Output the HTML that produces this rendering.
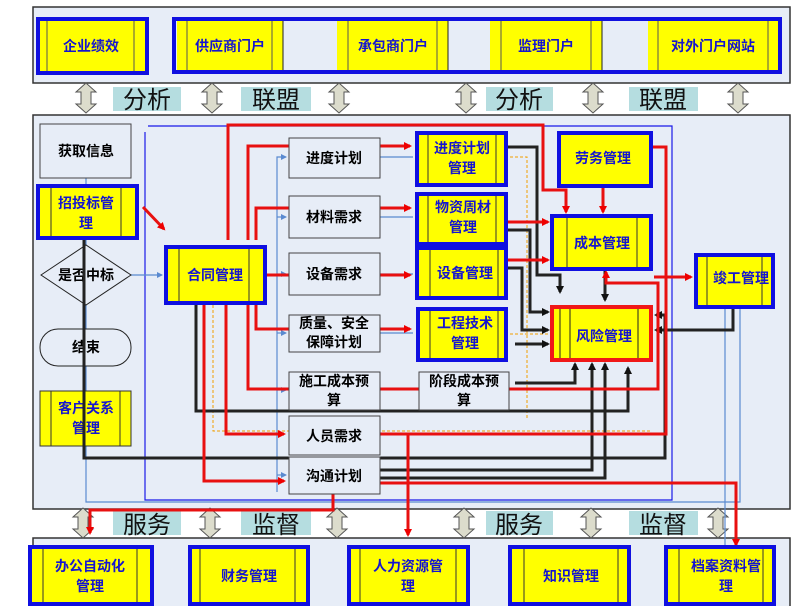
<!DOCTYPE html>
<html><head><meta charset="utf-8"><style>
html,body{margin:0;padding:0;background:#fff;}
svg{display:block;font-family:"Liberation Sans","Noto Sans CJK SC",sans-serif;}
.yt{font-size:14px;font-weight:bold;fill:#1515d0;text-anchor:middle;}
.gt{font-size:14px;font-weight:bold;fill:#000;text-anchor:middle;}
.lt{font-size:24px;fill:#111;text-anchor:middle;}
</style></head><body>
<svg width="793" height="606" viewBox="0 0 793 606" xmlns="http://www.w3.org/2000/svg">
<defs>
<marker id="ar" markerWidth="8" markerHeight="8" refX="6" refY="4" orient="auto" markerUnits="userSpaceOnUse"><path d="M0,0 L8,4 L0,8 z" fill="#e00"/></marker>
<marker id="ab" markerWidth="8" markerHeight="8" refX="6" refY="4" orient="auto" markerUnits="userSpaceOnUse"><path d="M0,0 L8,4 L0,8 z" fill="#111"/></marker>
<marker id="al" markerWidth="6" markerHeight="6" refX="5" refY="3" orient="auto" markerUnits="userSpaceOnUse"><path d="M0,0 L6,3 L0,6 z" fill="#5a8ad0"/></marker>
<g id="darr"><path d="M0,-15 L-10,-6 L-5,-6 L-5,6 L-10,6 L0,15 L10,6 L5,6 L5,-6 L10,-6 z" fill="#dcdccc" stroke="#555" stroke-width="1"/></g>
</defs>
<!-- panels -->
<rect x="33" y="7" width="757" height="76" fill="#e7edf7" stroke="#333" stroke-width="1.5"/>
<rect x="33" y="115" width="757" height="394" fill="#e7edf7" stroke="#333" stroke-width="1.5"/>
<rect x="33" y="538" width="757" height="70" fill="#e7edf7" stroke="#333" stroke-width="1.5"/>

<!-- top boxes -->
<rect x="38" y="19" width="109" height="54" fill="#ffff00" stroke="#1010e0" stroke-width="4"/>
<line x1="47" y1="21" x2="47" y2="71" stroke="#555"/><line x1="134" y1="21" x2="134" y2="71" stroke="#555"/>
<text class="yt" x="91" y="51">企业绩效</text>
<rect x="174" y="19" width="606" height="53" fill="#e7edf7" stroke="#1010e0" stroke-width="4"/>
<rect x="177" y="21" width="106" height="49" fill="#ff0"/><line x1="187" y1="21" x2="187" y2="70" stroke="#555"/><line x1="272" y1="21" x2="272" y2="70" stroke="#555"/><text class="yt" x="230" y="51">供应商门户</text>
<line x1="283" y1="21" x2="283" y2="70" stroke="#222"/>
<rect x="337" y="21" width="111" height="49" fill="#ff0"/><line x1="348" y1="21" x2="348" y2="70" stroke="#555"/><line x1="437" y1="21" x2="437" y2="70" stroke="#555"/><text class="yt" x="393" y="51">承包商门户</text>
<line x1="448" y1="21" x2="448" y2="70" stroke="#222"/>
<rect x="490" y="21" width="112" height="49" fill="#ff0"/><line x1="501" y1="21" x2="501" y2="70" stroke="#555"/><line x1="591" y1="21" x2="591" y2="70" stroke="#555"/><text class="yt" x="546" y="51">监理门户</text>
<line x1="602" y1="21" x2="602" y2="70" stroke="#222"/>
<rect x="648" y="21" width="130" height="49" fill="#ff0"/><line x1="658" y1="21" x2="658" y2="70" stroke="#555"/><line x1="768" y1="21" x2="768" y2="70" stroke="#555"/><text class="yt" x="713" y="51">对外门户网站</text>

<!-- top arrows -->
<use href="#darr" x="86" y="98"/><use href="#darr" x="212" y="98"/><use href="#darr" x="339" y="98"/>
<use href="#darr" x="466" y="98"/><use href="#darr" x="593" y="98"/><use href="#darr" x="738" y="98"/>
<rect x="113" y="87" width="68" height="24" fill="#b5dde0"/><text class="lt" x="147" y="108">分析</text>
<rect x="241" y="87" width="70" height="24" fill="#b5dde0"/><text class="lt" x="276" y="108">联盟</text>
<rect x="486" y="87" width="67" height="24" fill="#b5dde0"/><text class="lt" x="519" y="108">分析</text>
<rect x="629" y="87" width="69" height="24" fill="#b5dde0"/><text class="lt" x="663" y="108">联盟</text>

<!-- bottom arrows -->
<use href="#darr" x="83" y="523"/><use href="#darr" x="210" y="523"/><use href="#darr" x="337" y="523"/>
<use href="#darr" x="464" y="523"/><use href="#darr" x="591" y="523"/><use href="#darr" x="718" y="523"/>
<rect x="113" y="511" width="68" height="24" fill="#b5dde0"/><text class="lt" x="147" y="533">服务</text>
<rect x="241" y="511" width="70" height="24" fill="#b5dde0"/><text class="lt" x="276" y="533">监督</text>
<rect x="486" y="511" width="67" height="24" fill="#b5dde0"/><text class="lt" x="519" y="533">服务</text>
<rect x="629" y="511" width="69" height="24" fill="#b5dde0"/><text class="lt" x="663" y="533">监督</text>

<!-- blue frame -->
<polyline points="148,126 672,126 672,500 145,500 145,132" fill="none" stroke="#1a1ae8" stroke-width="1.2"/>
<!-- light blue connectors -->
<g stroke="#5a8ad0" stroke-width="1.2" fill="none">
<line x1="86" y1="178" x2="86" y2="184"/>
<line x1="86" y1="240" x2="86" y2="391"/>
<line x1="131" y1="275" x2="162" y2="275" marker-end="url(#al)"/>
<polyline points="277,492 277,157 286,157" marker-end="url(#al)"/>
<line x1="277" y1="217" x2="286" y2="217" marker-end="url(#al)"/>
<line x1="277" y1="274" x2="286" y2="274" marker-end="url(#al)"/>
<line x1="277" y1="333" x2="286" y2="333" marker-end="url(#al)"/>
<line x1="277" y1="390" x2="286" y2="390" marker-end="url(#al)"/>
<line x1="277" y1="475" x2="286" y2="475" marker-end="url(#al)"/>
<line x1="380" y1="157" x2="413" y2="157"/>
<line x1="380" y1="217" x2="413" y2="217"/>
<line x1="380" y1="274" x2="413" y2="274"/>
<line x1="380" y1="333" x2="413" y2="333"/>
<polyline points="86,446 86,502 740,502 740,300"/>
<polyline points="725,308 725,495 725,545"/>
</g>
<!-- orange dotted -->
<polyline points="213,300 213,431 650,431" fill="none" stroke="#f0a000" stroke-width="1" stroke-dasharray="3,2"/>
<polyline points="510,157 527,157 527,420" fill="none" stroke="#f0a000" stroke-width="1" stroke-dasharray="3,2"/>
<line x1="510" y1="334" x2="550" y2="334" stroke="#f0a000" stroke-width="1" stroke-dasharray="3,2"/>

<!-- black thick lines -->
<g stroke="#222" stroke-width="3" fill="none" marker-end="url(#ab)">
<polyline points="84,240 84,458 665,458 665,315 656,315"/>
<polyline points="196,300 196,411 628,411 628,368"/>
<polyline points="507,147 537,147 537,275 560,275 560,292"/>
<polyline points="507,230 530,230 530,312 548,312"/>
<polyline points="507,268 522,268 522,330 548,330"/>
<line x1="515" y1="344" x2="548" y2="344"/>
<polyline points="515,383 575,383 575,364"/>
<polyline points="380,470 592,470 592,364"/>
<polyline points="380,478 605,478 605,364"/>
<line x1="605" y1="270" x2="605" y2="300"/>
<polyline points="733,308 733,330 656,330"/>
</g>

<!-- red thick lines -->
<g stroke="#e81010" stroke-width="3" fill="none" marker-end="url(#ar)">
<polyline points="228,240 228,125 543,125 543,190 566,190 566,212"/>
<polyline points="248,240 248,146 410,146"/>
<polyline points="256,240 256,208 410,208"/>
<polyline points="266,275 410,275"/>
<polyline points="256,300 256,329 410,329"/>
<polyline points="248,300 248,389 658,389 658,283 606,283 606,272"/>
<polyline points="226,300 226,434 284,434"/>
<polyline points="204,300 204,481 284,481"/>
<polyline points="333,494 333,510 90,510 90,533"/>
<polyline points="380,434 666,434 666,147 642,147"/>
<polyline points="408,434 408,535"/>
<polyline points="380,483 736,483 736,545"/>
<line x1="603" y1="188" x2="603" y2="212"/>
<line x1="507" y1="222" x2="548" y2="222"/>
<line x1="507" y1="260" x2="548" y2="260"/>
<line x1="654" y1="277" x2="691" y2="277"/>
<line x1="143" y1="207" x2="164" y2="229"/>
</g>

<!-- left column -->
<rect x="40" y="124" width="91" height="54" fill="#e7edf7" stroke="#444"/>
<text class="gt" x="86" y="156">获取信息</text>
<rect x="38" y="186" width="99" height="52" fill="#ff0" stroke="#1010e0" stroke-width="4"/>
<line x1="51" y1="188" x2="51" y2="236" stroke="#333"/><line x1="121" y1="188" x2="121" y2="236" stroke="#333"/>
<text class="yt" x="86" y="208">招投标管</text><text class="yt" x="86" y="228">理</text>
<polygon points="41,275 86,245 131,275 86,305" fill="#e7edf7" stroke="#222"/>
<text class="gt" x="86" y="280">是否中标</text>
<rect x="40" y="329" width="91" height="37" rx="18" fill="#e7edf7" stroke="#222"/>
<text class="gt" x="86" y="352">结束</text>
<rect x="40" y="391" width="91" height="55" fill="#ff0" stroke="#333"/>
<line x1="51" y1="391" x2="51" y2="446" stroke="#333"/><line x1="120" y1="391" x2="120" y2="446" stroke="#333"/>
<text class="yt" x="86" y="413">客户关系</text><text class="yt" x="86" y="433">管理</text>
<line x1="84" y1="240" x2="84" y2="458" stroke="#222" stroke-width="3"/>

<!-- contract -->
<rect x="166" y="247" width="99" height="56" fill="#ff0" stroke="#1010e0" stroke-width="4"/>
<line x1="179" y1="249" x2="179" y2="301" stroke="#333"/><line x1="249" y1="249" x2="249" y2="301" stroke="#333"/>
<text class="yt" x="215" y="280">合同管理</text>

<!-- gray boxes -->
<g fill="#e7edf7" stroke="#444">
<rect x="289" y="138" width="91" height="40"/><rect x="289" y="196" width="91" height="42"/>
<rect x="289" y="253" width="91" height="42"/><rect x="289" y="315" width="91" height="37"/>
<rect x="289" y="372" width="91" height="38"/><rect x="289" y="416" width="91" height="39"/>
<rect x="289" y="457" width="91" height="37"/><rect x="419" y="372" width="90" height="38"/>
</g>
<text class="gt" x="334" y="163">进度计划</text>
<text class="gt" x="334" y="222">材料需求</text>
<text class="gt" x="334" y="279">设备需求</text>
<text class="gt" x="334" y="328">质量、安全</text><text class="gt" x="334" y="347">保障计划</text>
<text class="gt" x="334" y="386">施工成本预</text><text class="gt" x="334" y="405">算</text>
<text class="gt" x="334" y="441">人员需求</text>
<text class="gt" x="334" y="481">沟通计划</text>
<text class="gt" x="464" y="386">阶段成本预</text><text class="gt" x="464" y="405">算</text>

<!-- blue-yellow mid boxes -->
<g fill="#ff0" stroke="#1010e0" stroke-width="4">
<rect x="417" y="133" width="89" height="52"/><rect x="417" y="194" width="89" height="50"/>
<rect x="417" y="248" width="89" height="50"/><rect x="418" y="309" width="88" height="51"/>
<rect x="559" y="133" width="92" height="53"/><rect x="552" y="216" width="99" height="53"/>
<rect x="696" y="255" width="77" height="52"/>
</g>
<g stroke="#333">
<line x1="428" y1="135" x2="428" y2="183"/><line x1="496" y1="135" x2="496" y2="183"/>
<line x1="428" y1="196" x2="428" y2="242"/><line x1="496" y1="196" x2="496" y2="242"/>
<line x1="430" y1="250" x2="430" y2="296"/><line x1="498" y1="250" x2="498" y2="296"/>
<line x1="430" y1="311" x2="430" y2="358"/><line x1="498" y1="311" x2="498" y2="358"/>
<line x1="567" y1="218" x2="567" y2="267"/><line x1="637" y1="218" x2="637" y2="267"/>
<line x1="707" y1="257" x2="707" y2="305"/><line x1="762" y1="257" x2="762" y2="305"/>
</g>
<text class="yt" x="462" y="153">进度计划</text><text class="yt" x="462" y="173">管理</text>
<text class="yt" x="463" y="212">物资周材</text><text class="yt" x="463" y="232">管理</text>
<text class="yt" x="465" y="278">设备管理</text>
<text class="yt" x="465" y="328">工程技术</text><text class="yt" x="465" y="348">管理</text>
<text class="yt" x="603" y="163">劳务管理</text>
<text class="yt" x="602" y="248">成本管理</text>
<text class="yt" x="741" y="283">竣工管理</text>
<!-- risk -->
<rect x="552" y="307" width="99" height="53" fill="#ff0" stroke="#f01818" stroke-width="4"/>
<line x1="560" y1="309" x2="560" y2="358" stroke="#222"/><line x1="570" y1="309" x2="570" y2="358" stroke="#222"/><line x1="638" y1="309" x2="638" y2="358" stroke="#222"/>
<text class="yt" x="604" y="341">风险管理</text>

<!-- bottom boxes -->
<g fill="#ff0" stroke="#1010e0" stroke-width="4">
<rect x="30" y="547" width="122" height="57"/><rect x="190" y="547" width="118" height="57"/>
<rect x="349" y="547" width="119" height="57"/><rect x="510" y="547" width="119" height="57"/>
<rect x="666" y="547" width="108" height="57"/>
</g>
<g stroke="#333">
<line x1="43" y1="549" x2="43" y2="602"/><line x1="137" y1="549" x2="137" y2="602"/>
<line x1="200" y1="549" x2="200" y2="602"/><line x1="295" y1="549" x2="295" y2="602"/>
<line x1="360" y1="549" x2="360" y2="602"/><line x1="456" y1="549" x2="456" y2="602"/>
<line x1="524" y1="549" x2="524" y2="602"/><line x1="618" y1="549" x2="618" y2="602"/>
<line x1="679" y1="549" x2="679" y2="602"/><line x1="763" y1="549" x2="763" y2="602"/>
</g>
<text class="yt" x="90" y="571">办公自动化</text><text class="yt" x="90" y="591">管理</text>
<text class="yt" x="249" y="581">财务管理</text>
<text class="yt" x="408" y="571">人力资源管</text><text class="yt" x="408" y="591">理</text>
<text class="yt" x="571" y="581">知识管理</text>
<text class="yt" x="726" y="571">档案资料管</text><text class="yt" x="726" y="591">理</text>
</svg>
</body></html>
